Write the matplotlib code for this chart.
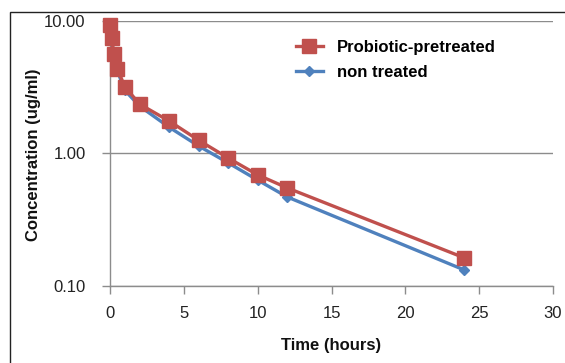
import matplotlib
matplotlib.use("Agg")
import matplotlib.pyplot as plt
from matplotlib.patches import Rectangle
from matplotlib.ticker import FixedLocator, FuncFormatter

time_h = [0.0, 0.12, 0.25, 0.5, 1, 2, 4, 6, 8, 10, 12, 24]
probiotic = [9.3, 7.45, 5.66, 4.35, 3.2, 2.36, 1.76, 1.26, 0.925, 0.69, 0.55, 0.163]
non_treated = [9.0, 7.2, 5.5, 4.2, 3.0, 2.28, 1.58, 1.14, 0.85, 0.63, 0.47, 0.132]

series_names = ["Probiotic-pretreated", "non treated"]
x_ticks = [0, 5, 10, 15, 20, 25, 30]
y_ticks = [0.1, 1, 10]

plt.rcParams['font.family'] = ['Liberation Sans', 'DejaVu Sans']

fig = plt.figure(figsize=(5.65, 3.63), dpi=100)
W, H = 565, 363
ax = fig.add_axes([110 / W, 1 - 286 / H, (553 - 110) / W, (286 - 21) / H])

# outer chart border
fig.patches.append(Rectangle((10 / W, -0.1), 1.2, 1 - 12 / H + 0.1,
                             transform=fig.transFigure, fill=False,
                             edgecolor='#222222', linewidth=1.0))

red = '#C0504D'
blue = '#4F81BD'
ax.plot(time_h, non_treated, color=blue, linewidth=2.4, marker='D',
        markersize=5, markeredgecolor=blue, label=series_names[1], zorder=3,
        clip_on=False)
ax.plot(time_h, probiotic, color=red, linewidth=2.4, marker='s',
        markersize=9.5, markeredgecolor=red, label=series_names[0], zorder=4,
        clip_on=False)

ax.set_yscale('log')
ax.set_ylim(0.1, 10)
ax.set_xlim(0, 30)
ax.yaxis.set_major_locator(FixedLocator(y_ticks))
ax.yaxis.set_minor_locator(FixedLocator([]))
ax.yaxis.set_major_formatter(FuncFormatter(lambda v, p: f"{v:.2f}"))
ax.set_xticks(x_ticks)

ax.grid(axis='y', color='#8C8C8C', linewidth=1.0)
ax.set_axisbelow(True)
for s in ['top', 'right']:
    ax.spines[s].set_visible(False)
for s in ['left', 'bottom']:
    ax.spines[s].set_color('#8C8C8C')
    ax.spines[s].set_linewidth(1.0)
ax.tick_params(axis='both', direction='out', length=5.5, color='#8C8C8C',
               labelsize=12, labelcolor='#222222', width=1.0)
ax.tick_params(axis='y', pad=12)
ax.tick_params(axis='x', pad=9)

ax.set_xlabel('Time (hours)', fontsize=12, fontweight='bold', color='#111111', labelpad=12)
fig.text(34 / W, 1 - 155 / H, 'Concentration (ug/ml)', rotation=90,
         ha='center', va='center', fontsize=12, fontweight='bold', color='#111111')

handles, labels = ax.get_legend_handles_labels()
leg = ax.legend(handles[::-1], labels[::-1], loc='upper left',
                bbox_to_anchor=((296 - 110) / 443, 1 - (40 - 21) / 265),
                frameon=False, prop={'weight': 'bold', 'size': 12},
                handlelength=1.6, handletextpad=0.85, labelspacing=0.6,
                borderaxespad=0, borderpad=0)

fig.savefig('out.png', dpi=100)
